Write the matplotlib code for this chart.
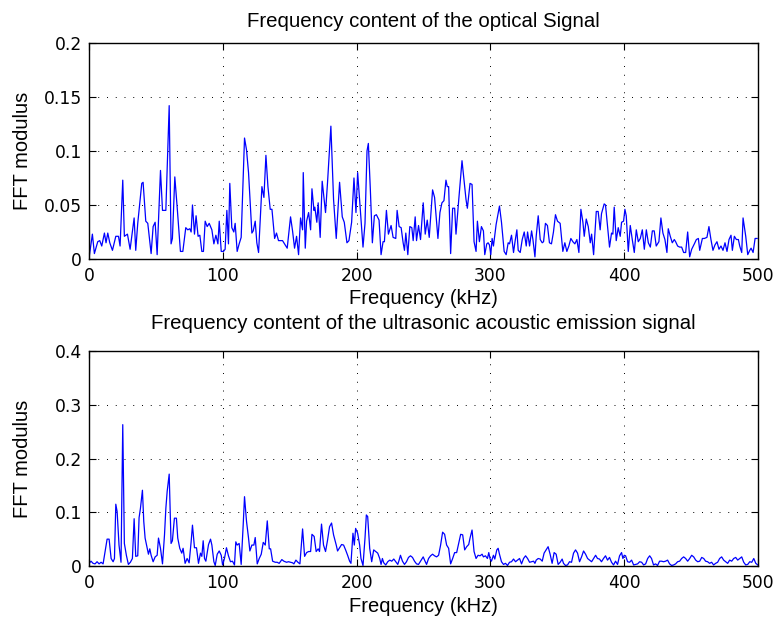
import matplotlib
matplotlib.use("Agg")
import matplotlib.pyplot as plt

plt.rcParams['font.family'] = ['Liberation Sans', 'DejaVu Sans']

# ---------------- Data: optical signal (top) ----------------
opt_freq = [0, 2.5, 4.0, 6.5, 8.0, 9.5, 11.5, 12.7, 14.0, 15.5, 17.5, 20.0, 22.0, 23.2, 25.2, 26.4, 28.7, 30.7,
            33.7, 34.9, 36.4, 39.4, 40.4, 42.4, 43.9, 46.4, 47.9, 49.4, 50.9, 53.4, 54.9, 57.4, 59.9, 61.3, 62.3,
            64.1, 65.8, 68.3, 70.1, 72.3, 73.8, 75.3, 76.3, 77.3, 78.8, 80.0, 81.5, 82.8, 84.3, 85.5, 86.8, 88.3,
            89.8, 91.8, 93.3, 94.8, 96.3, 97.3, 98.8, 100.5, 101.7, 103.0, 104.2, 105.2, 106.7, 108.2, 109.2,
            110.7, 112.2, 113.7, 116.2, 117.7, 119.2, 120.7, 121.7, 122.7, 124.2, 125.4, 126.7, 129.2, 130.7,
            132.2, 133.7, 135.4, 136.7, 138.7, 140.1, 141.6, 144.6, 146.6, 148.1, 150.6, 152.1, 153.6, 155.1,
            156.6, 158.1, 159.6, 160.1, 161.6, 162.6, 164.1, 165.6, 166.6, 168.1,
            168.75, 170.25, 171.25, 172.75, 174.25, 176.75, 178.25, 180.75, 182.75, 184.75, 187.25, 189.25,
            190.75, 192.75, 194.25, 196.25, 198.0, 199.5, 200.75, 202.75, 204.75, 206.25, 207.75, 208.75,
            210.25, 211.75, 213.25, 214.75, 216.75, 218.25, 219.75, 220.75, 222.25, 223.75, 225.75, 227.25,
            229.25, 230.25, 231.75, 233.25, 234.75, 235.75, 236.75, 238.25, 239.75, 241.25, 242.25, 243.75,
            244.75, 246.25, 247.75, 249.75, 251.25, 252.75, 254.25, 256.75, 258.25, 260.75, 262.25, 263.75,
            265.25, 266.75, 267.75, 268.75, 270.25, 271.75, 273.25, 274.25, 276.25, 278.75, 280.25, 281.75,
            282.75, 284.75, 286.25, 287.75, 289.25, 290.25, 291.75, 293.25, 294.75, 295.75, 297.25, 298.25,
            299.25, 300.25, 301.25, 302.25, 304.25, 306.75, 308.25, 310.25, 311.75, 313.25, 314.25, 315.75,
            317.25, 318.25, 319.75, 320.75, 322.25, 323.75, 325.25, 326.75, 327.75, 329.25, 330.75, 331.75,
            333.25,
            334.2, 335.7, 337.2, 338.7, 339.7, 341.1, 342.6, 344.1, 345.6, 347.1, 348.6, 350.1, 352.1, 354.1,
            355.6, 357.1, 358.6, 360.1, 361.6, 363.1, 364.6, 366.1, 367.6, 369.1, 370.1, 371.6, 373.1, 374.6,
            375.6, 377.1, 379.1, 380.5, 382.0, 383.0, 385.0, 386.0, 387.5, 389.0, 390.5, 391.5, 392.5, 394.0,
            395.5, 397.0, 398.0, 399.5, 400.5, 401.5, 403.0, 404.5, 406.0, 407.5, 409.0, 410.5, 412.0, 413.5,
            415.0, 416.5, 418.0, 419.5, 421.0, 422.4, 423.9, 425.9, 427.4, 428.9, 430.4, 431.9, 432.9, 434.4,
            435.9, 437.4, 438.4, 439.9, 441.4, 442.9, 444.4, 445.9, 447.4, 448.9, 450.4, 452.4, 453.9, 455.4,
            456.4, 458.4, 459.9, 461.8, 463.3, 464.8, 466.3, 467.8, 469.3, 470.8, 472.3, 473.8, 475.3, 476.8,
            478.3, 479.8, 480.8, 482.3, 483.8, 485.3, 486.3, 487.8, 488.8, 490.8, 492.3, 493.8, 494.8, 496.3,
            497.8, 499.3]
opt_mod = [0.001, 0.023, 0.005, 0.016, 0.017, 0.012, 0.024, 0.015, 0.024, 0.015, 0.008, 0.021, 0.021, 0.012,
           0.073, 0.021, 0.023, 0.009, 0.038, 0.008, 0.033, 0.070, 0.071, 0.035, 0.033, 0.005, 0.030, 0.034,
           0.004, 0.082, 0.045, 0.045, 0.142, 0.014, 0.019, 0.076, 0.049, 0.007, 0.007, 0.029, 0.027, 0.028,
           0.025, 0.050, 0.023, 0.040, 0.021, 0.022, 0.007, 0.007, 0.035, 0.030, 0.033, 0.027, 0.014, 0.022,
           0.014, 0.035, 0.007, 0.007, 0.009, 0.045, 0.014, 0.070, 0.029, 0.025, 0.033, 0.007, 0.014, 0.020,
           0.112, 0.101, 0.080, 0.046, 0.024, 0.026, 0.035, 0.015, 0.006, 0.067, 0.057, 0.096, 0.067, 0.046,
           0.046, 0.019, 0.024, 0.017, 0.017, 0.013, 0.010, 0.039, 0.026, 0.010, 0.021, 0.004, 0.038, 0.027,
           0.080, 0.010, 0.035, 0.043, 0.027, 0.065, 0.045,
           0.048, 0.034, 0.052, 0.020, 0.072, 0.043, 0.071, 0.123, 0.055, 0.019, 0.071, 0.039, 0.034, 0.015,
           0.017, 0.034, 0.075, 0.043, 0.080, 0.046, 0.011, 0.033, 0.100, 0.107, 0.064, 0.015, 0.040, 0.041,
           0.036, 0.004, 0.016, 0.016, 0.045, 0.023, 0.031, 0.020, 0.019, 0.045, 0.030, 0.029, 0.015, 0.008,
           0.024, 0.004, 0.030, 0.029, 0.017, 0.039, 0.017, 0.031, 0.018, 0.052, 0.023, 0.036, 0.020, 0.064,
           0.057, 0.019, 0.043, 0.052, 0.054, 0.073, 0.067, 0.067, 0.005, 0.047, 0.047, 0.023, 0.054, 0.091,
           0.073, 0.055, 0.047, 0.070, 0.069, 0.016, 0.007, 0.035, 0.016, 0.030, 0.026, 0.004, 0.014, 0.015,
           0.013, 0.004, 0.019, 0.012, 0.032, 0.049, 0.034, 0.007, 0.004, 0.015, 0.014, 0.022, 0.006, 0.015,
           0.027, 0.008, 0.006, 0.018, 0.025, 0.012, 0.025, 0.012, 0.026, 0.018, 0.002,
           0.021, 0.040, 0.018, 0.015, 0.016, 0.033, 0.031, 0.015, 0.014, 0.025, 0.041, 0.035, 0.033, 0.007,
           0.015, 0.007, 0.012, 0.019, 0.016, 0.014, 0.018, 0.006, 0.046, 0.034, 0.021, 0.037, 0.030, 0.015,
           0.023, 0.004, 0.044, 0.044, 0.027, 0.042, 0.051, 0.050, 0.030, 0.011, 0.024, 0.023, 0.048, 0.017,
           0.029, 0.021, 0.034, 0.035, 0.046, 0.040, 0.007, 0.031, 0.018, 0.006, 0.027, 0.016, 0.019, 0.027,
           0.009, 0.027, 0.015, 0.011, 0.026, 0.026, 0.012, 0.016, 0.038, 0.024, 0.018, 0.006, 0.028, 0.021,
           0.015, 0.018, 0.016, 0.012, 0.011, 0.011, 0.006, 0.006, 0.025, 0.002, 0.009, 0.014, 0.018, 0.019,
           0.008, 0.019, 0.019, 0.020, 0.030, 0.018, 0.008, 0.013, 0.016, 0.009, 0.012, 0.008, 0.015, 0.007,
           0.018, 0.022, 0.008, 0.021, 0.018, 0.018, 0.012, 0.006, 0.038, 0.021, 0.004, 0.008, 0.010, 0.006,
           0.019, 0.019]

# ---------------- Data: ultrasonic acoustic emission (bottom) ----------------
ae_freq = [0, 1.5, 3.0, 4.5, 6.0, 7.5, 9.0, 10.5, 12.0, 13.5, 15.0, 16.5, 18.0, 19.0, 20.0, 21.0, 22.4, 23.9,
           25.2, 26.4, 27.9, 29.4, 30.9, 32.4, 33.7, 34.9, 36.4, 37.4, 38.4, 39.9, 40.9, 41.9, 43.4, 44.4,
           45.4, 46.4, 47.9, 49.4, 50.9, 51.9, 53.4, 54.9, 56.4, 57.4, 58.4, 59.9, 61.3, 62.3, 63.8, 65.3,
           66.3, 67.8, 69.3, 70.3, 71.8, 73.3, 74.8, 76.3, 77.3, 78.8, 80.3, 81.8, 83.3, 84.3, 85.3, 86.3,
           87.3, 89.3, 90.8, 91.8, 93.3, 94.3, 95.8, 97.3, 98.8, 99.8, 101.2, 102.7, 104.2, 105.7, 107.2,
           108.7, 109.7, 110.7, 112.2, 113.7, 115.2, 116.2, 117.7, 119.2, 120.2, 121.7, 123.2, 124.2, 125.7,
           127.2, 128.7, 130.2, 131.7, 133.2, 134.7, 135.7, 137.2, 139.2, 140.6, 142.1, 144.1, 145.6, 147.6,
           149.1, 150.6, 152.1, 153.1, 154.6, 156.1, 157.6, 159.6, 161.1, 162.6, 164.1, 165.6, 166.6,
           168.25, 169.75, 171.25, 172.25, 173.75, 175.25, 176.75, 178.25, 179.75, 181.25, 182.75, 184.75,
           185.75, 187.25, 188.75, 190.25, 191.75, 193.25, 194.75, 195.75, 197.25, 198.25, 199.25, 200.75,
           202.25, 203.25, 204.75, 206.25, 207.25, 208.25, 209.75, 211.25, 212.75, 214.25, 215.75, 217.25,
           218.25, 219.25, 220.25, 221.75, 223.25, 224.75, 226.25, 227.75, 229.25, 230.75, 231.75, 232.75,
           234.25, 235.75, 237.25, 238.75, 240.25, 241.75, 243.25, 244.75, 246.25, 248.25, 249.75, 250.75,
           252.25, 253.75, 255.25, 256.75, 258.25, 259.75, 261.25, 262.75, 264.25, 265.75, 267.25, 268.75,
           270.25, 271.75, 273.25, 274.75, 276.25, 277.75, 279.25, 280.75, 282.25, 283.75, 284.75, 286.25,
           287.75, 289.25, 290.75, 292.25, 293.75, 294.75, 296.25, 297.75, 298.75, 299.75, 300.75, 302.25,
           303.25, 304.75, 305.75, 306.75, 308.25, 309.75, 311.25, 312.75, 314.25, 315.75, 317.25, 318.75,
           320.25, 321.75, 323.25, 324.75, 326.25, 327.75, 329.25, 330.75, 332.25, 333.25,
           334.2, 335.7, 337.2, 338.7, 340.1, 341.6, 343.1, 344.6, 346.1, 347.6, 349.1, 350.6, 352.1, 353.6,
           354.6, 356.1, 357.6, 359.1, 360.6, 362.1, 363.6, 365.1, 366.6, 368.1, 369.6, 371.1, 372.6, 374.1,
           375.6, 377.1, 378.6, 380.0, 381.5, 383.0, 384.5, 386.0, 387.5, 389.0, 390.5, 392.0, 393.5, 395.0,
           396.5, 398.0, 399.0, 400.0, 401.0, 402.5, 404.0, 405.5, 407.0, 408.5, 410.0, 411.5, 413.0, 414.5,
           416.0, 417.5, 419.0, 420.4, 421.9, 423.4, 424.9, 426.4, 427.9, 429.4, 430.9, 432.4, 433.9, 435.4,
           436.9, 438.4, 439.9, 441.4, 442.9, 444.4, 445.9, 447.4, 448.9, 450.4, 451.9, 453.4, 454.9, 456.4,
           457.9, 459.4, 460.8, 462.3, 463.8, 465.3, 466.8, 468.3, 469.8, 471.3, 472.8, 474.3, 475.8, 477.3,
           478.8, 480.3, 481.8, 483.3, 484.8, 486.3, 487.8, 489.3, 490.8, 492.3, 493.8, 495.3, 496.8, 498.3,
           499.8]
ae_mod = [0.005, 0.009, 0.005, 0.004, 0.008, 0.004, 0.007, 0.004, 0.027, 0.050, 0.050, 0.014, 0.008, 0.014,
          0.115, 0.101, 0.039, 0.007, 0.263, 0.042, 0.020, 0.003, 0.007, 0.014, 0.088, 0.018, 0.019, 0.090,
          0.107, 0.141, 0.083, 0.052, 0.034, 0.022, 0.032, 0.020, 0.008, 0.017, 0.020, 0.052, 0.033, 0.004,
          0.058, 0.107, 0.139, 0.171, 0.042, 0.047, 0.089, 0.089, 0.052, 0.033, 0.024, 0.033, 0.005, 0.014,
          0.006, 0.045, 0.076, 0.034, 0.034, 0.005, 0.024, 0.018, 0.047, 0.014, 0.009, 0.040, 0.050, 0.039,
          0.008, 0.001, 0.022, 0.028, 0.020, 0.002, 0.014, 0.034, 0.019, 0.008, 0.009, 0.002, 0.045, 0.039,
          0.042, 0.003, 0.076, 0.129, 0.083, 0.052, 0.028, 0.039, 0.039, 0.053, 0.004, 0.014, 0.022, 0.044,
          0.039, 0.084, 0.032, 0.032, 0.009, 0.007, 0.007, 0.005, 0.012, 0.009, 0.007, 0.008, 0.007, 0.006,
          0.004, 0.011, 0.007, 0.004, 0.069, 0.018, 0.025, 0.027, 0.027, 0.059,
          0.055, 0.027, 0.032, 0.027, 0.078, 0.039, 0.027, 0.048, 0.073, 0.080, 0.058, 0.039, 0.028, 0.034,
          0.040, 0.039, 0.030, 0.020, 0.009, 0.005, 0.061, 0.039, 0.070, 0.061, 0.039, 0.014, 0.001, 0.052,
          0.095, 0.092, 0.033, 0.008, 0.030, 0.027, 0.024, 0.014, 0.003, 0.014, 0.006, 0.002, 0.008, 0.011,
          0.009, 0.013, 0.008, 0.003, 0.011, 0.020, 0.009, 0.003, 0.008, 0.016, 0.019, 0.016, 0.009, 0.004,
          0.003, 0.011, 0.017, 0.011, 0.003, 0.014, 0.019, 0.022, 0.019, 0.017, 0.020, 0.039, 0.063, 0.059,
          0.039, 0.033, 0.004, 0.014, 0.025, 0.025, 0.042, 0.059, 0.058, 0.030, 0.036, 0.040, 0.052, 0.067,
          0.027, 0.014, 0.020, 0.019, 0.022, 0.017, 0.019, 0.014, 0.025, 0.013, 0.009, 0.020, 0.013, 0.030,
          0.033, 0.022, 0.008, 0.003, 0.005, 0.001, 0.007, 0.008, 0.013, 0.008, 0.011, 0.014, 0.004, 0.014,
          0.019, 0.014, 0.007, 0.008, 0.009, 0.005,
          0.011, 0.014, 0.013, 0.009, 0.024, 0.030, 0.036, 0.022, 0.005, 0.025, 0.022, 0.003, 0.007, 0.013,
          0.005, 0.001, 0.002, 0.008, 0.007, 0.024, 0.030, 0.024, 0.008, 0.017, 0.028, 0.022, 0.014, 0.011,
          0.008, 0.014, 0.020, 0.014, 0.013, 0.008, 0.014, 0.019, 0.011, 0.016, 0.007, 0.002, 0.009, 0.003,
          0.019, 0.025, 0.014, 0.020, 0.019, 0.008, 0.007, 0.011, 0.002, 0.003, 0.004, 0.008, 0.007, 0.002,
          0.004, 0.014, 0.019, 0.014, 0.002, 0.004, 0.001, 0.009, 0.009, 0.008, 0.009, 0.011, 0.004, 0.001,
          0.002, 0.004, 0.008, 0.009, 0.014, 0.017, 0.014, 0.009, 0.014, 0.020, 0.017, 0.011, 0.008, 0.009,
          0.016, 0.014, 0.009, 0.008, 0.005, 0.007, 0.002, 0.005, 0.007, 0.014, 0.017, 0.011, 0.008, 0.005,
          0.011, 0.009, 0.014, 0.016, 0.011, 0.014, 0.017, 0.007, 0.002, 0.003, 0.008, 0.007, 0.014, 0.005,
          0.002]

titles = ["Frequency content of the optical Signal",
          "Frequency content of the ultrasonic acoustic emission signal"]
xlabel = "Frequency (kHz)"
ylabel = "FFT modulus"
x_ticks = [0, 100, 200, 300, 400, 500]
top_yticks = [0, 0.05, 0.1, 0.15, 0.2]
top_yticklabels = ["0", "0.05", "0.1", "0.15", "0.2"]
bot_yticks = [0, 0.1, 0.2, 0.3, 0.4]
bot_yticklabels = ["0", "0.1", "0.2", "0.3", "0.4"]

fig = plt.figure(figsize=(7.79, 6.26), dpi=100)
ax1 = fig.add_axes([0.1143, 0.5863, 0.8588, 0.3450])
ax2 = fig.add_axes([0.1143, 0.0958, 0.8588, 0.3435])

configs = [
    (ax1, opt_freq, opt_mod, top_yticks, top_yticklabels, (0, 0.2), titles[0], 11.5),
    (ax2, ae_freq, ae_mod, bot_yticks, bot_yticklabels, (0, 0.4), titles[1], 15.5),
]

for ax, fx, fy, yt, ytl, ylim, title, tpad in configs:
    ax.plot(fx, fy, color=(0, 0, 1), linewidth=0.9)
    ax.set_xlim(0, 500)
    ax.set_ylim(*ylim)
    ax.set_xticks(x_ticks)
    ax.set_xticklabels([str(v) for v in x_ticks])
    ax.set_yticks(yt)
    ax.set_yticklabels(ytl)
    ax.grid(True, color='black', linewidth=0.7, linestyle=(0, (1, 8)))
    ax.tick_params(direction='in', top=True, right=True, length=5, width=0.8,
                   labelsize=12.3, colors='black')
    ax.tick_params(axis='x', pad=6)
    ax.tick_params(axis='y', pad=5)
    for lab in ax.get_xticklabels() + ax.get_yticklabels():
        lab.set_family(['DejaVu Sans'])
    for sp in ax.spines.values():
        sp.set_linewidth(1.0)
    ax.set_xlabel(xlabel, fontsize=14.5, labelpad=3)
    ax.set_ylabel(ylabel, fontsize=14.5)
    ax.yaxis.set_label_coords(-0.086, 0.5)
    ax.set_title(title, fontsize=14.7, pad=tpad)

fig.savefig("out.png", dpi=100)
